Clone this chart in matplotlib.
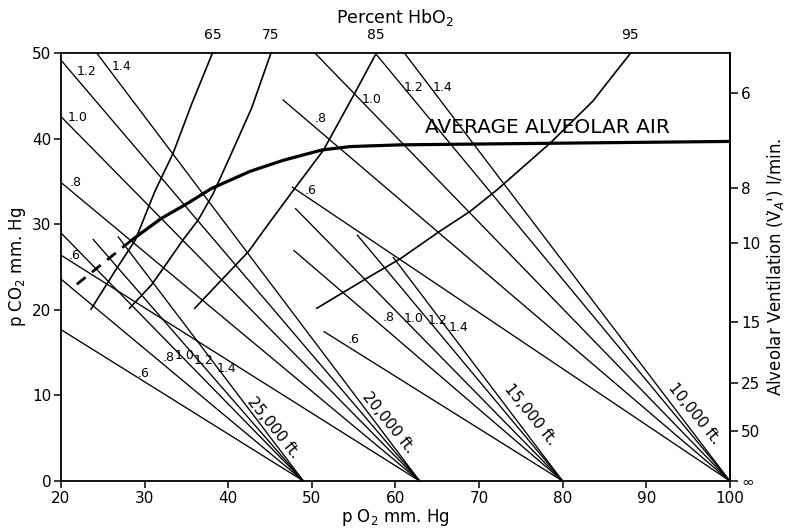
import matplotlib
matplotlib.use('Agg')
import matplotlib.pyplot as plt

# ---------------- data ----------------
# altitude fans: inspired pO2 (apex on the pO2 axis)
altitudes = ['25,000 ft.', '20,000 ft.', '15,000 ft.', '10,000 ft.']
inspired_po2 = [49.0, 62.9, 80.0, 100.0]
r_labels = ['.6', '.8', '1.0', '1.2', '1.4']

# upper-left start of each R line (pO2, pCO2), order .6 .8 1.0 1.2 1.4
r25_x = [20.0, 20.0, 20.0, 23.8, 26.8]
r25_y = [17.7, 23.6, 29.0, 28.3, 28.6]
r20_x = [20.0, 20.0, 20.0, 20.0, 24.3]
r20_y = [26.4, 34.9, 42.6, 49.2, 50.0]
r15_x = [51.4, 47.8, 48.0, 55.4, 59.7]
r15_y = [17.5, 27.0, 31.9, 28.8, 26.2]
r10_x = [47.6, 46.5, 50.4, 57.6, 61.1]
r10_y = [34.4, 44.6, 50.0, 50.0, 50.0]

# R label positions
lab25_x = [29.9, 32.9, 34.8, 37.0, 39.8]
lab25_y = [12.6, 14.4, 14.7, 14.1, 13.1]
lab20_x = [21.6, 21.7, 22.0, 23.0, 27.2]
lab20_y = [26.4, 34.9, 42.5, 47.9, 48.5]
lab15_x = [55.0, 59.2, 62.2, 65.0, 67.6]
lab15_y = [16.5, 19.1, 19.0, 18.8, 17.9]
lab10_x = [49.9, 51.1, 57.1, 62.2, 65.6]
lab10_y = [34.0, 42.4, 44.6, 46.0, 46.0]

# altitude label positions
alt_lab_x = [45.4, 59.2, 76.1, 95.7]
alt_lab_y = [6.3, 6.8, 7.8, 7.9]

# iso-saturation (percent HbO2) curves
hb_labels = ['65', '75', '85', '95']
hb65_x = [23.6, 26.3, 28.9, 31.2, 33.4, 35.6, 38.1]
hb65_y = [20.1, 24.3, 28.2, 33.8, 38.3, 44.0, 50.0]
hb75_x = [28.2, 30.8, 32.4, 34.6, 36.4, 38.2, 40.2, 42.8, 45.1]
hb75_y = [20.2, 22.9, 25.1, 28.2, 30.5, 33.6, 37.9, 43.6, 50.0]
hb85_x = [36.0, 39.2, 42.4, 45.0, 47.8, 51.4, 55.0, 57.7]
hb85_y = [20.2, 23.5, 26.8, 30.3, 34.0, 38.7, 45.1, 50.0]
hb95_x = [50.6, 56.4, 60.6, 65.3, 68.9, 72.1, 78.5, 83.6, 88.1]
hb95_y = [20.2, 23.6, 26.0, 29.2, 31.5, 34.0, 39.5, 44.4, 50.0]

# average alveolar air
alv_x = [28.5, 32.0, 35.2, 38.0, 42.6, 46.6, 51.2, 54.6, 60.6, 80.0, 100.0]
alv_y = [28.2, 30.7, 32.5, 34.2, 36.2, 37.5, 38.7, 39.1, 39.3, 39.5, 39.7]
alv_dash_x = [21.9, 28.5]
alv_dash_y = [23.0, 28.2]

# axes ticks
x_ticks = [20, 30, 40, 50, 60, 70, 80, 90, 100]
y_ticks = [0, 10, 20, 30, 40, 50]
va_tick_pos = [45.4, 34.3, 27.8, 18.6, 11.5, 5.9, 0.0]
va_tick_lab = ['6', '8', '10', '15', '25', '50', '\u221e']

# ---------------- drawing ----------------
fig = plt.figure(figsize=(7.86, 5.29), dpi=100)
ax = fig.add_axes([0.0776, 0.0907, 0.851, 0.8085])
ax.set_xlim(20, 100)
ax.set_ylim(0, 50)

lc = 'black'
starts = [(r25_x, r25_y), (r20_x, r20_y), (r15_x, r15_y), (r10_x, r10_y)]
labs = [(lab25_x, lab25_y), (lab20_x, lab20_y), (lab15_x, lab15_y), (lab10_x, lab10_y)]
for apex, (sx, sy), (lx, ly) in zip(inspired_po2, starts, labs):
    for x0, y0 in zip(sx, sy):
        ax.plot([x0, apex], [y0, 0], color=lc, lw=0.95, solid_capstyle='butt',
                clip_on=False)
    for t, tx, ty in zip(r_labels, lx, ly):
        ax.text(tx, ty, t, fontsize=9, ha='center', va='center', color=lc)

for t, tx, ty in zip(altitudes, alt_lab_x, alt_lab_y):
    ax.text(tx, ty, t, fontsize=11, ha='center', va='center', rotation=-51,
            rotation_mode='anchor', color=lc)

for t, cx, cy in zip(hb_labels, [hb65_x, hb75_x, hb85_x, hb95_x],
                     [hb65_y, hb75_y, hb85_y, hb95_y]):
    ax.plot(cx, cy, color=lc, lw=1.2, clip_on=False)
    ax.text(cx[-1], 51.3, t, fontsize=10, ha='center', va='bottom', color=lc)

ax.plot(alv_x, alv_y, color=lc, lw=2.3, solid_capstyle='round')
ax.plot(alv_dash_x, alv_dash_y, color=lc, lw=2.0, dashes=(4, 3))
ax.text(78.2, 41.3, 'AVERAGE ALVEOLAR AIR', fontsize=14.5, ha='center',
        va='center', color=lc)

# axes styling
for s in ['left', 'bottom', 'top', 'right']:
    ax.spines[s].set_linewidth(1.3)
ax.set_xticks(x_ticks)
ax.set_yticks(y_ticks)
ax.tick_params(axis='both', direction='out', length=5, width=1.1, labelsize=11,
               pad=2)
ax.set_xlabel('p O$_2$ mm. Hg', fontsize=12, labelpad=1)
ax.set_ylabel('p CO$_2$ mm. Hg', fontsize=12, labelpad=3)
ax.set_title('Percent HbO$_2$', fontsize=12.5, pad=22)

ax2 = ax.twinx()
ax2.set_ylim(0, 50)
ax2.set_yticks(va_tick_pos)
ax2.set_yticklabels(va_tick_lab)
ax2.tick_params(axis='y', direction='out', length=6, width=1.1, labelsize=11,
                pad=2)
for s in ['left', 'bottom', 'top', 'right']:
    ax2.spines[s].set_visible(False)
ax2.spines['right'].set_visible(True)
ax2.spines['right'].set_linewidth(1.3)
ax2.set_ylabel("Alveolar Ventilation (V\u0307$_A$') l/min.", fontsize=12,
               labelpad=3)

fig.savefig('out.png', dpi=100, facecolor='white')
